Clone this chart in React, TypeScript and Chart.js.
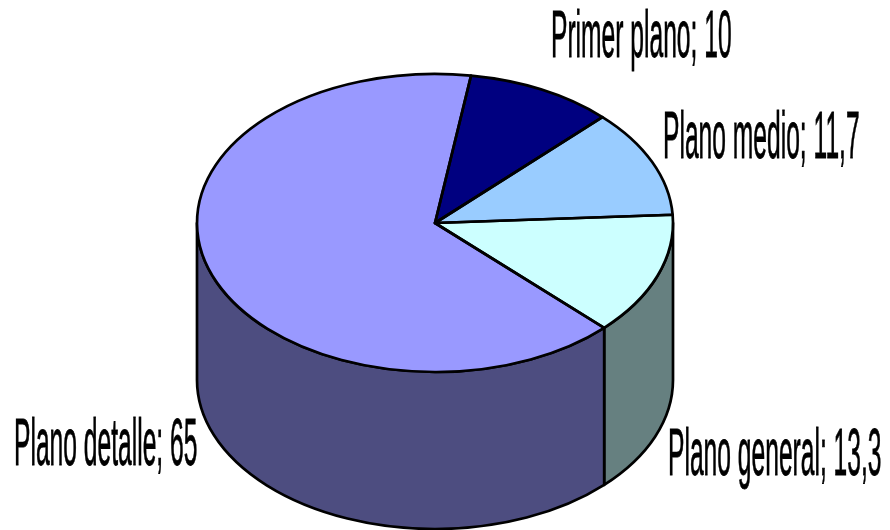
import React, { useEffect, useRef } from "react";
import { Chart, registerables } from "chart.js";

Chart.register(...registerables);

const categories = ["Primer plano", "Plano medio", "Plano general", "Plano detalle"];
const values = [10, 11.7, 13.3, 65];
const valueLabels = ["10", "11,7", "13,3", "65"];
const topColors = ["#000080", "#99CCFF", "#CCFFFF", "#9999FF"];
const sideColors = ["#000040", "#4D6680", "#668080", "#4D4D80"];
const labelAnchors = [
  [551, 57],
  [663, 158],
  [668, 475],
  [14, 465],
];

const RX = 238;
const RY = 149;
const DEPTH = 157;
const LINE = 2.7;
const TWO_PI = Math.PI * 2;

const cylinderPlugin = {
  id: "cylinder",
  beforeDatasetsDraw(chart: any) {
    const ctx = chart.ctx;
    const arcs = chart.getDatasetMeta(0).data;
    const cx = arcs[0].x;
    const cy = arcs[0].y;
    ctx.save();
    ctx.lineWidth = LINE;
    ctx.strokeStyle = "#000";
    ctx.lineJoin = "round";
    arcs.forEach((arc: any, i: number) => {
      let a = arc.startAngle;
      let b = arc.endAngle;
      for (const shift of [-TWO_PI, 0, TWO_PI]) {
        const s = Math.max(a + shift, 0);
        const e = Math.min(b + shift, Math.PI);
        if (e <= s) continue;
        ctx.beginPath();
        ctx.ellipse(cx, cy, RX, RY, 0, s, e);
        ctx.lineTo(cx + RX * Math.cos(e), cy + RY * Math.sin(e) + DEPTH);
        ctx.ellipse(cx, cy + DEPTH, RX, RY, 0, e, s, true);
        ctx.closePath();
        ctx.fillStyle = sideColors[i];
        ctx.fill();
        ctx.stroke();
      }
    });
    ctx.restore();
    ctx.save();
    ctx.translate(0, cy);
    ctx.scale(1, RY / RX);
    ctx.translate(0, -cy);
  },
  afterDatasetsDraw(chart: any) {
    const ctx = chart.ctx;
    ctx.restore();
    const arcs = chart.getDatasetMeta(0).data;
    ctx.save();
    ctx.lineWidth = LINE;
    ctx.strokeStyle = "#000";
    ctx.lineJoin = "round";
    arcs.forEach((arc: any) => {
      ctx.beginPath();
      ctx.moveTo(arc.x, arc.y);
      ctx.ellipse(arc.x, arc.y, RX, RY, 0, arc.startAngle, arc.endAngle);
      ctx.closePath();
      ctx.stroke();
    });
    ctx.restore();
  },
  afterDraw(chart: any) {
    const ctx = chart.ctx;
    ctx.save();
    ctx.fillStyle = "#000";
    ctx.strokeStyle = "#000";
    ctx.lineWidth = 0.8;
    ctx.font = '66px "Liberation Sans"';
    ctx.textAlign = "left";
    ctx.textBaseline = "alphabetic";
    categories.forEach((name, i) => {
      const [x, y] = labelAnchors[i];
      ctx.save();
      ctx.translate(x, y);
      ctx.scale(0.373, 1);
      ctx.fillText(`${name}; ${valueLabels[i]}`, 0, 0);
      ctx.strokeText(`${name}; ${valueLabels[i]}`, 0, 0);
      ctx.restore();
    });
    ctx.restore();
  },
};

export default function App() {
  const ref = useRef<HTMLCanvasElement>(null);
  useEffect(() => {
    const chart = new Chart(ref.current as HTMLCanvasElement, {
      type: "pie",
      data: {
        labels: categories,
        datasets: [{ data: values, backgroundColor: topColors, borderWidth: 0 }],
      },
      options: {
        animation: false,
        responsive: false,
        radius: RX,
        rotation: 8.7,
        layout: { padding: { left: 0, right: 20, top: 0, bottom: 84 } },
        plugins: { legend: { display: false }, tooltip: { enabled: false } },
      },
      plugins: [cylinderPlugin],
    } as any);
    return () => chart.destroy();
  }, []);
  return (
    <div style={{ position: "fixed", left: 0, top: 0, width: 890, height: 530, background: "#fff" }}>
      <canvas ref={ref} width={890} height={530} style={{ display: "block" }} />
    </div>
  );
}
